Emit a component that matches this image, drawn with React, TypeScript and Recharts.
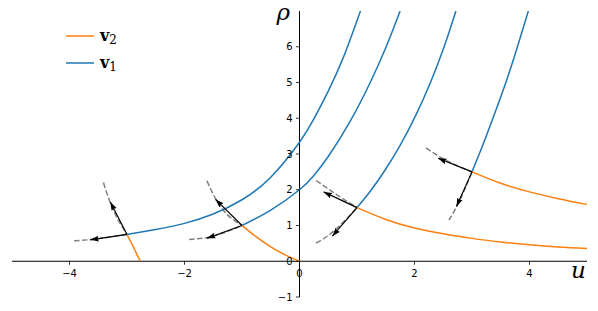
import React from 'react';
import { LineChart, Line, XAxis, YAxis, ReferenceLine, ReferenceDot } from 'recharts';

// integral curves of v1 (blue)
const BLUE_A_U = [-3, -2.5, -2, -1.5, -1, -0.5, 0, 0.25, 0.5, 0.77, 1.06];
const BLUE_A_RHO = [0.75, 0.89, 1.06, 1.32, 1.72, 2.35, 3.33, 3.98, 4.76, 5.73, 7.0];
const BLUE_B_U = [-1, -0.5, 0, 0.25, 0.5, 0.88, 1.23, 1.5, 1.75];
const BLUE_B_RHO = [1.0, 1.43, 2.0, 2.4, 2.93, 3.91, 5.0, 5.97, 7.0];
const BLUE_C_U = [1, 1.25, 1.5, 1.75, 2.03, 2.29, 2.52, 2.72];
const BLUE_C_RHO = [1.5, 2.0, 2.58, 3.24, 4.11, 5.05, 6.02, 7.0];
const BLUE_D_U = [3, 3.2, 3.41, 3.62, 3.8, 3.98];
const BLUE_D_RHO = [2.5, 3.3, 4.2, 5.15, 6.05, 7.0];

// integral curves of v2 (orange)
const ORANGE_A_U = [-3, -2.89, -2.77];
const ORANGE_A_RHO = [0.75, 0.4, 0];
const ORANGE_B_U = [-1, -0.75, -0.5, -0.25, 0];
const ORANGE_B_RHO = [1.0, 0.68, 0.4, 0.18, 0];
const ORANGE_C_U = [1, 1.5, 2, 2.5, 3, 3.5, 4, 4.5, 5];
const ORANGE_C_RHO = [1.5, 1.17, 0.93, 0.77, 0.64, 0.54, 0.46, 0.4, 0.36];
const ORANGE_D_U = [3, 3.5, 4, 4.5, 5];
const ORANGE_D_RHO = [2.5, 2.18, 1.94, 1.75, 1.59];

// base points and eigenvector arrow tips
const PT_U = [-3, -1, 1, 3];
const PT_RHO = [0.75, 1.0, 1.5, 2.5];
const V1_TIP_U = [-3.64, -1.61, 0.57, 2.73];
const V1_TIP_RHO = [0.6, 0.64, 0.7, 1.53];
const V2_TIP_U = [-3.29, -1.46, 0.42, 2.41];
const V2_TIP_RHO = [1.66, 1.73, 1.94, 2.88];

// gray dashed curves
const DASH_U = [
  [-3.92, -3.64, -3], [-3.41, -3.31, -3],
  [-1.92, -1.6, -1], [-1.61, -1.46, -1],
  [0.29, 0.5, 0.7, 1], [0.29, 0.65, 1],
  [2.6, 2.74, 3], [2.2, 2.41, 3],
];
const DASH_RHO = [
  [0.57, 0.605, 0.75], [2.2, 1.72, 0.75],
  [0.61, 0.665, 1.0], [2.25, 1.75, 1.0],
  [0.51, 0.72, 1.0, 1.5], [2.26, 1.86, 1.5],
  [1.15, 1.55, 2.5], [3.17, 2.95, 2.5],
];

const X_TICKS = [-4, -2, 0, 2, 4];
const Y_TICKS = [-1, 0, 1, 2, 3, 4, 5, 6];

const BLUE = '#1f77b4';
const ORANGE = '#ff7f0e';

const zip = (us: number[], rs: number[]) => us.map((u, i) => ({ u, rho: rs[i] }));
const fmt = (t: number) => (t < 0 ? `\u2212${Math.abs(t)}` : `${t}`);

const blueCurves = [
  zip(BLUE_A_U, BLUE_A_RHO),
  zip(BLUE_B_U, BLUE_B_RHO),
  zip(BLUE_C_U, BLUE_C_RHO),
  zip(BLUE_D_U, BLUE_D_RHO),
];
const orangeCurves = [
  zip(ORANGE_A_U, ORANGE_A_RHO),
  zip(ORANGE_B_U, ORANGE_B_RHO),
  zip(ORANGE_C_U, ORANGE_C_RHO),
  zip(ORANGE_D_U, ORANGE_D_RHO),
];
const dashCurves = DASH_U.map((us, i) => zip(us, DASH_RHO[i]));
const arrows = PT_U.flatMap((u, i) => [
  [{ u, rho: PT_RHO[i] }, { u: V1_TIP_U[i], rho: V1_TIP_RHO[i] }],
  [{ u, rho: PT_RHO[i] }, { u: V2_TIP_U[i], rho: V2_TIP_RHO[i] }],
]);

const tickFont = { fontFamily: 'DejaVu Sans', fontSize: 10, fill: '#000' };

export default function App() {
  return (
    <div style={{ position: 'absolute', left: 0, top: 0, width: 598, height: 311, background: '#fff' }}>
      <svg width={0} height={0} style={{ position: 'absolute' }}>
        <defs>
          <marker id="ahead" markerWidth={9} markerHeight={7} refX={8.5} refY={3.5} orient="auto" markerUnits="userSpaceOnUse">
            <path d="M0,0.6 L8.5,3.5 L0,6.4 L1.2,3.5 Z" fill="#000" />
          </marker>
        </defs>
      </svg>
      <LineChart width={598} height={311} margin={{ top: 11, right: 11, bottom: 14, left: 12 }}>
        <XAxis dataKey="u" type="number" domain={[-5, 5]} allowDataOverflow hide />
        <YAxis type="number" domain={[-1, 7]} allowDataOverflow hide />

        <ReferenceLine y={0} stroke="#000" strokeWidth={1} />
        <ReferenceLine x={0} stroke="#000" strokeWidth={1} />

        {X_TICKS.map(t => (
          <ReferenceDot
            key={`xt${t}`}
            x={t}
            y={0}
            r={0}
            shape={(p: any) => (
              <g>
                <line x1={p.cx} y1={p.cy} x2={p.cx} y2={p.cy + 3.5} stroke="#000" strokeWidth={0.8} />
                <text x={p.cx} y={p.cy + 16} textAnchor="middle" {...tickFont}>{fmt(t)}</text>
              </g>
            )}
          />
        ))}
        {Y_TICKS.map(t => (
          <ReferenceDot
            key={`yt${t}`}
            x={0}
            y={t}
            r={0}
            shape={(p: any) => (
              <g>
                <line x1={p.cx} y1={p.cy} x2={p.cx - 3.5} y2={p.cy} stroke="#000" strokeWidth={0.8} />
                <text x={p.cx - 7} y={p.cy + 3.6} textAnchor="end" {...tickFont}>{fmt(t)}</text>
              </g>
            )}
          />
        ))}

        {dashCurves.map((d, i) => (
          <Line key={`d${i}`} data={d} dataKey="rho" type="monotone" stroke="#808080" strokeWidth={1.5}
            strokeDasharray="5.5 2.4" dot={false} activeDot={false} isAnimationActive={false} />
        ))}
        {blueCurves.map((d, i) => (
          <Line key={`b${i}`} data={d} dataKey="rho" type="natural" stroke={BLUE} strokeWidth={1.5}
            dot={false} activeDot={false} isAnimationActive={false} />
        ))}
        {orangeCurves.map((d, i) => (
          <Line key={`o${i}`} data={d} dataKey="rho" type="natural" stroke={ORANGE} strokeWidth={1.5}
            dot={false} activeDot={false} isAnimationActive={false} />
        ))}
        {arrows.map((d, i) => (
          <Line key={`a${i}`} data={d} dataKey="rho" type="linear" stroke="#000" strokeWidth={1.2}
            markerEnd="url(#ahead)" dot={false} activeDot={false} isAnimationActive={false} />
        ))}

        <ReferenceDot x={0} y={7} r={0} shape={(p: any) => (
          <text x={p.cx - 23} y={p.cy + 9} fontFamily="DejaVu Serif" fontStyle="italic" fontSize={23} fill="#000">ρ</text>
        )} />
        <ReferenceDot x={5} y={0} r={0} shape={(p: any) => (
          <text x={p.cx - 16} y={p.cy + 17} fontFamily="DejaVu Serif" fontStyle="italic" fontSize={23} fill="#000">u</text>
        )} />
      </LineChart>

      <svg width={140} height={80} style={{ position: 'absolute', left: 0, top: 0 }}>
        <line x1={66} y1={36} x2={94} y2={36} stroke={ORANGE} strokeWidth={1.5} />
        <text x={100} y={41} fontFamily="DejaVu Serif" fontSize={16} fill="#000">
          <tspan fontWeight="bold">v</tspan>
          <tspan fontSize={12} dy={3}>2</tspan>
        </text>
        <line x1={66} y1={63} x2={94} y2={63} stroke={BLUE} strokeWidth={1.5} />
        <text x={100} y={68} fontFamily="DejaVu Serif" fontSize={16} fill="#000">
          <tspan fontWeight="bold">v</tspan>
          <tspan fontSize={12} dy={3}>1</tspan>
        </text>
      </svg>
    </div>
  );
}
